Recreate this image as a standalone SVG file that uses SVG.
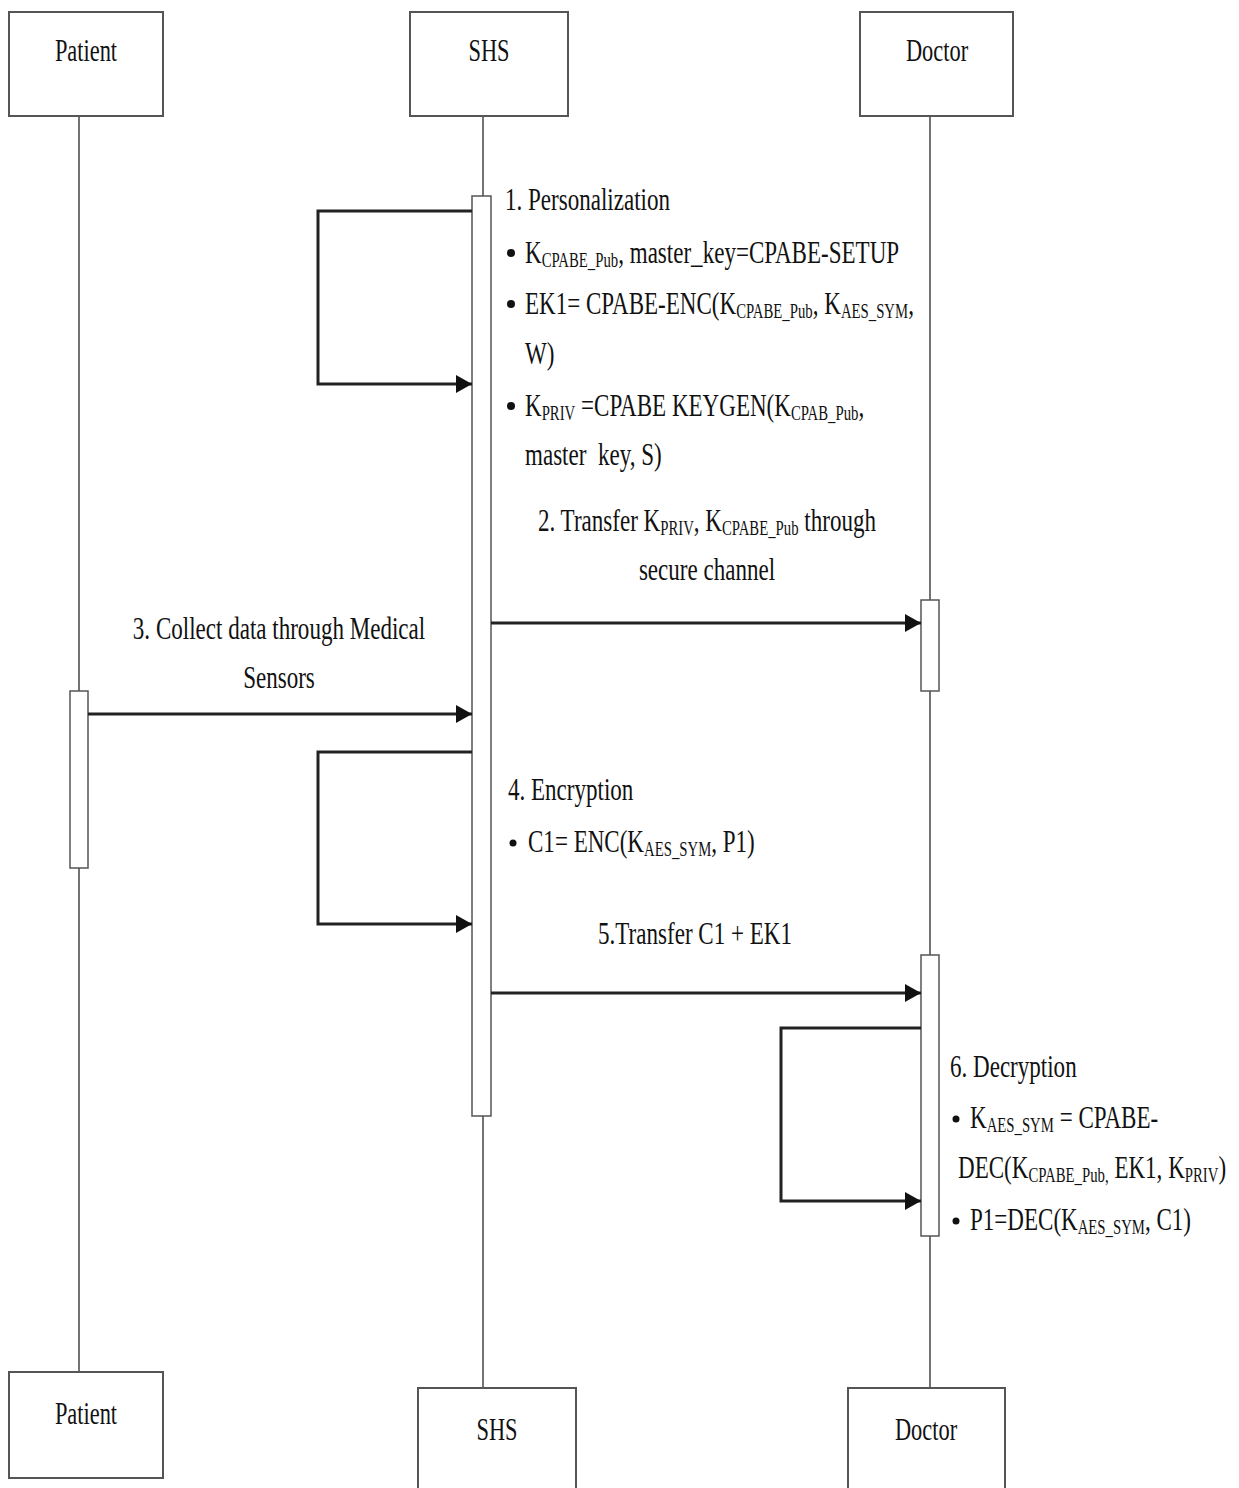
<svg xmlns="http://www.w3.org/2000/svg" width="1239" height="1488" viewBox="0 0 1239 1488">
<style>
.box{fill:#fff;stroke:#555;stroke-width:2}
.life{stroke:#444;stroke-width:1.5;fill:none}
.act{fill:#fff;stroke:#555;stroke-width:1.5}
.msg{stroke:#222;stroke-width:3;fill:none}
.t{font-family:"Liberation Serif","Times New Roman",serif;font-size:32px;fill:#111}
.s{font-size:20.5px}
.bul{fill:#111}
</style>
<defs>
<marker id="ah" markerWidth="16" markerHeight="20" refX="16" refY="10" orient="auto" markerUnits="userSpaceOnUse">
<path d="M0,1 L16,10 L0,19 Z" fill="#111"/>
</marker>
</defs>

<g id="lifelines">
<line class="life" x1="79" y1="116" x2="79" y2="1372"/>
<line class="life" x1="483" y1="116" x2="483" y2="1388"/>
<line class="life" x1="930" y1="116" x2="930" y2="1388"/>
</g>

<g id="patient-top"><rect class="box" x="9" y="12" width="154" height="104"/>
<text class="t" text-anchor="middle" transform="translate(86,61) scale(0.7,1)">Patient</text></g>
<g id="shs-top"><rect class="box" x="410" y="12" width="158" height="104"/>
<text class="t" text-anchor="middle" transform="translate(489,61) scale(0.7,1)">SHS</text></g>
<g id="doctor-top"><rect class="box" x="860" y="12" width="153" height="104"/>
<text class="t" text-anchor="middle" transform="translate(937,61) scale(0.7,1)">Doctor</text></g>

<g id="patient-bottom"><rect class="box" x="9" y="1372" width="154" height="106"/>
<text class="t" text-anchor="middle" transform="translate(86,1424) scale(0.7,1)">Patient</text></g>
<g id="shs-bottom"><rect class="box" x="418" y="1388" width="158" height="120"/>
<text class="t" text-anchor="middle" transform="translate(497,1440) scale(0.7,1)">SHS</text></g>
<g id="doctor-bottom"><rect class="box" x="848" y="1388" width="157" height="120"/>
<text class="t" text-anchor="middle" transform="translate(926,1440) scale(0.7,1)">Doctor</text></g>

<g id="activations">
<rect class="act" x="472" y="196" width="19" height="920"/>
<rect class="act" x="921" y="600" width="18" height="91"/>
<rect class="act" x="921" y="955" width="18" height="281"/>
<rect class="act" x="70" y="691" width="18" height="177"/>
</g>

<g id="connectors">
<polyline class="msg" points="472,211 318,211 318,384 472,384" marker-end="url(#ah)"/>
<line class="msg" x1="491" y1="623" x2="921" y2="623" marker-end="url(#ah)"/>
<line class="msg" x1="88" y1="714" x2="472" y2="714" marker-end="url(#ah)"/>
<polyline class="msg" points="472,752 318,752 318,924 472,924" marker-end="url(#ah)"/>
<line class="msg" x1="491" y1="993" x2="921" y2="993" marker-end="url(#ah)"/>
<polyline class="msg" points="921,1028 781,1028 781,1201 921,1201" marker-end="url(#ah)"/>
</g>

<g id="labels">
<text class="t" transform="translate(505,210) scale(0.72,1)">1. Personalization</text>
<circle class="bul" cx="511" cy="253" r="4"/>
<text class="t" transform="translate(525,263) scale(0.72,1)">K<tspan class="s" dy="4">CPABE_Pub</tspan><tspan dy="-4">, master_key=CPABE-SETUP</tspan></text>
<circle class="bul" cx="511" cy="304" r="4"/>
<text class="t" transform="translate(525,314) scale(0.72,1)">EK1= CPABE-ENC(K<tspan class="s" dy="4">CPABE_Pub</tspan><tspan dy="-4">, K</tspan><tspan class="s" dy="4">AES_SYM</tspan><tspan dy="-4">,</tspan></text>
<text class="t" transform="translate(525,364) scale(0.72,1)">W)</text>
<circle class="bul" cx="511" cy="406" r="4"/>
<text class="t" transform="translate(525,416) scale(0.72,1)">K<tspan class="s" dy="4">PRIV</tspan><tspan dy="-4"> =CPABE KEYGEN(K</tspan><tspan class="s" dy="4">CPAB_Pub</tspan><tspan dy="-4">,</tspan></text>
<text class="t" transform="translate(525,465) scale(0.72,1)">master&#160; key, S)</text>

<text class="t" text-anchor="middle" transform="translate(707,531) scale(0.72,1)">2. Transfer K<tspan class="s" dy="4">PRIV</tspan><tspan dy="-4">, K</tspan><tspan class="s" dy="4">CPABE_Pub</tspan><tspan dy="-4"> through</tspan></text>
<text class="t" text-anchor="middle" transform="translate(707,580) scale(0.72,1)">secure channel</text>

<text class="t" text-anchor="middle" transform="translate(279,639) scale(0.72,1)">3. Collect data through Medical</text>
<text class="t" text-anchor="middle" transform="translate(279,688) scale(0.72,1)">Sensors</text>

<text class="t" transform="translate(508,800) scale(0.72,1)">4. Encryption</text>
<circle class="bul" cx="513" cy="843" r="3.5"/>
<text class="t" transform="translate(528,852) scale(0.72,1)">C1= ENC(K<tspan class="s" dy="4">AES_SYM</tspan><tspan dy="-4">, P1)</tspan></text>

<text class="t" text-anchor="middle" transform="translate(695,944) scale(0.72,1)">5.Transfer C1 + EK1</text>

<text class="t" transform="translate(950,1077) scale(0.72,1)">6. Decryption</text>
<circle class="bul" cx="956" cy="1119" r="3.5"/>
<text class="t" transform="translate(970,1128) scale(0.72,1)">K<tspan class="s" dy="4">AES_SYM</tspan><tspan dy="-4"> = CPABE-</tspan></text>
<text class="t" transform="translate(958,1178) scale(0.72,1)">DEC(K<tspan class="s" dy="4">CPABE_Pub,</tspan><tspan dy="-4"> EK1, K</tspan><tspan class="s" dy="4">PRIV</tspan><tspan dy="-4">)</tspan></text>
<circle class="bul" cx="956" cy="1221" r="3.5"/>
<text class="t" transform="translate(970,1230) scale(0.72,1)">P1=DEC(K<tspan class="s" dy="4">AES_SYM</tspan><tspan dy="-4">, C1)</tspan></text>
</g>
</svg>
